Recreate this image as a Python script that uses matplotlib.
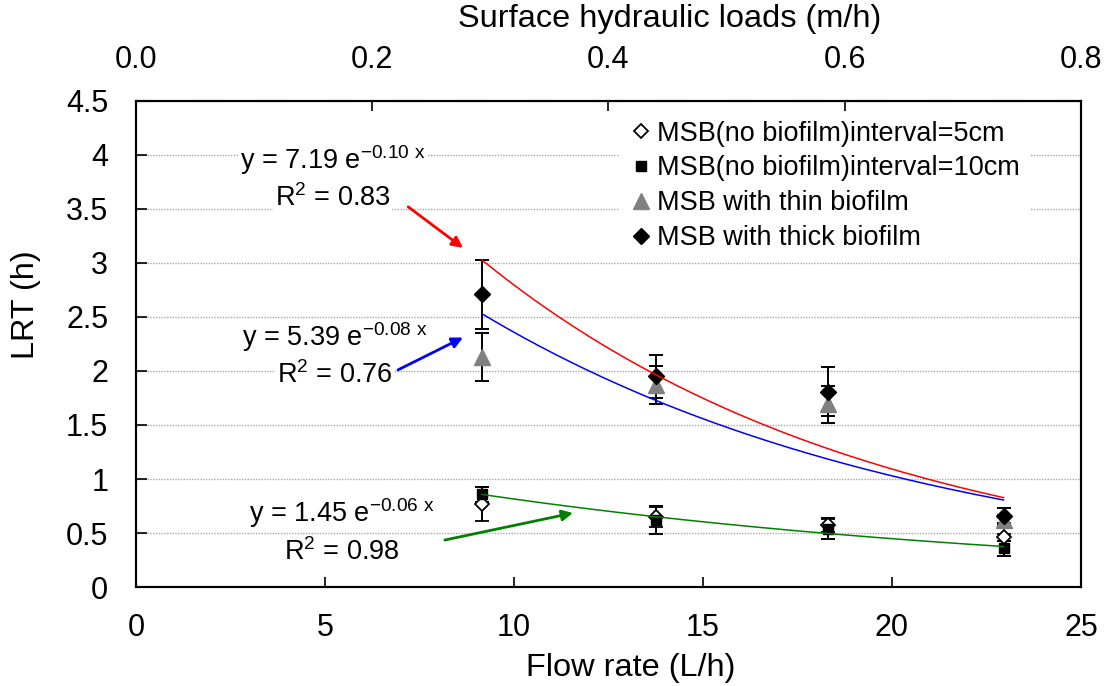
import numpy as np
import matplotlib.pyplot as plt

plt.rcParams['font.family'] = 'Liberation Sans'
plt.rcParams['mathtext.default'] = 'regular'
plt.rcParams['font.size'] = 19.5

# flow rate (L/h) and LRT (h)
flow = [9.15, 13.75, 18.3, 22.95]
nb5 = [0.77, 0.65, 0.57, 0.46]
nb5_err = [0.16, 0.09, 0.06, 0.03]
nb10 = [0.86, 0.62, 0.54, 0.36]
nb10_err = [0.07, 0.13, 0.10, 0.07]
thin = [2.13, 1.87, 1.69, 0.62]
thin_err = [0.22, 0.18, 0.17, 0.05]
thick = [2.71, 1.95, 1.81, 0.66]
thick_err = [0.32, 0.20, 0.23, 0.07]

labels = ['MSB(no biofilm)interval=5cm', 'MSB(no biofilm)interval=10cm',
          'MSB with thin biofilm', 'MSB with thick biofilm']
top_ticks = [0.0, 0.2, 0.4, 0.6, 0.8]

# trend line equations as printed on the chart
eq_a = ['7.19', '5.39', '1.45']
eq_b = ['-0.10', '-0.08', '-0.06']
eq_r2 = ['0.83', '0.76', '0.98']

tick_fs = 22
label_fs = 23.4

fig = plt.figure(figsize=(11.11, 6.86), dpi=100)
ax = fig.add_axes([0.1224, 0.1443, 0.8506, 0.7085])

eb = dict(ecolor='black', elinewidth=1.4, capsize=5, capthick=1.4, zorder=3)
ax.errorbar(flow, nb5, yerr=nb5_err, fmt='D', ms=7, mfc='white', mec='black',
            mew=1.3, label=labels[0], **eb)
ax.errorbar(flow, nb10, yerr=nb10_err, fmt='s', ms=7, color='black',
            label=labels[1], **eb)
ax.errorbar(flow, thin, yerr=thin_err, fmt='^', ms=12, color='#808080',
            label=labels[2], **eb)
ax.errorbar(flow, thick, yerr=thick_err, fmt='D', ms=8, color='black',
            label=labels[3], **eb)

# exponential trend lines fitted to the data
xs = np.linspace(flow[0], flow[-1], 200)
for series, col in [(thick, 'red'), (thin, 'blue'), (nb10, 'green')]:
    b, lna = np.polyfit(flow, np.log(series), 1)
    ax.plot(xs, np.exp(lna) * np.exp(b * xs), color=col, lw=1.1, zorder=4)

box = dict(facecolor='white', edgecolor='none', pad=1)
txt_pos = [(5.2, 3.95, 3.60), (5.25, 2.31, 1.96), (5.45, 0.685, 0.325)]
arrows = [((7.2, 3.52), (8.65, 3.14), 'red'),
          ((6.93, 2.01), (8.65, 2.31), 'blue'),
          ((8.17, 0.435), (11.56, 0.685), 'green')]
for i in range(3):
    x, y1, y2 = txt_pos[i]
    ax.text(x, y1, 'y = %s e$^{%s\\ x}$' % (eq_a[i], eq_b[i]), ha='center',
            va='center', bbox=box, zorder=5)
    ax.text(x, y2, 'R$^{2}$ = %s' % eq_r2[i], ha='center', va='center',
            bbox=box, zorder=5)
    start, end, col = arrows[i]
    ax.annotate('', xy=end, xytext=start,
                arrowprops=dict(arrowstyle='-|>', color=col, lw=2,
                                mutation_scale=16, shrinkA=0, shrinkB=0),
                zorder=5)

ax.set_xlim(0, 25)
ax.set_ylim(0, 4.5)
ax.set_xticks([0, 5, 10, 15, 20, 25])
ax.set_yticks(np.arange(0, 4.51, 0.5))
ax.set_yticklabels(['0', '0.5', '1', '1.5', '2', '2.5', '3', '3.5', '4', '4.5'])
ax.tick_params(axis='x', direction='in', length=7, width=1.2, pad=19,
               labelsize=tick_fs)
ax.tick_params(axis='y', direction='in', length=8, width=1.2, pad=20,
               labelsize=tick_fs)
ax.yaxis.grid(True, color='#a8a8a8', linestyle=(0, (1, 1)), lw=1)
ax.set_axisbelow(True)
for sp in ax.spines.values():
    sp.set_linewidth(1.5)

ax.set_xlabel('Flow rate (L/h)', va='center', fontsize=label_fs)
ax.xaxis.set_label_coords(0.524, -0.167)
ax.set_ylabel('LRT (h)', va='center', fontsize=label_fs)
ax.yaxis.set_label_coords(-0.116, 0.58)

# legend shows the markers only, without error bars
handles, _ = ax.get_legend_handles_labels()
handles = [h[0] for h in handles]
leg = ax.legend(handles, labels, loc='upper left',
                bbox_to_anchor=(0.511, 0.982),
                borderaxespad=0, borderpad=0.4, handlelength=0.8,
                handletextpad=0.2, labelspacing=0.33, frameon=True,
                fancybox=False, framealpha=1, edgecolor='none')
leg.set_zorder(6)

ax2 = ax.twiny()
ax2.set_xlim(0, 0.8)
ax2.set_xticks(top_ticks)
ax2.set_xticklabels(['%.1f' % t for t in top_ticks])
ax2.tick_params(axis='x', direction='in', length=7, width=1.2, pad=19,
                labelsize=tick_fs)
ax2.set_xlabel('Surface hydraulic loads (m/h)', va='center', fontsize=label_fs)
ax2.xaxis.set_label_coords(0.565, 1.169)
for sp in ax2.spines.values():
    sp.set_linewidth(1.5)

fig.savefig('out.png', dpi=100)
